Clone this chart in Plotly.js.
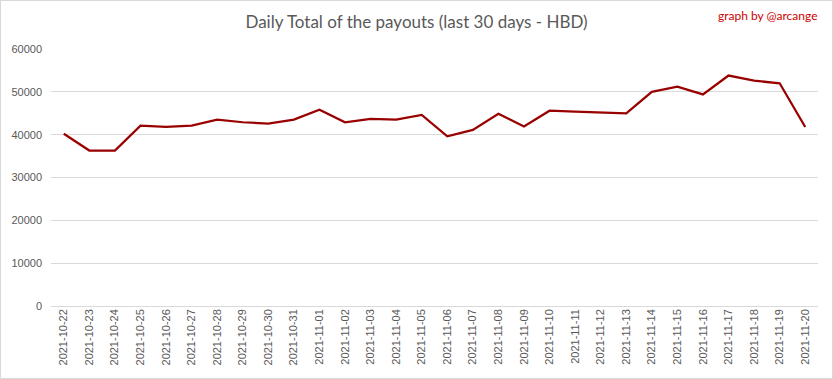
<!DOCTYPE html>
<html>
<head>
<meta charset="utf-8">
<script src="https://cdn.plot.ly/plotly-3.0.1.min.js"></script>
<style>
html,body{margin:0;padding:0;background:#fff;}
#chart{width:831px;height:377px;border:1px solid #d9d9d9;}
</style>
</head>
<body>
<div id="chart"></div>
<script>
const dates = ["2021-10-22","2021-10-23","2021-10-24","2021-10-25","2021-10-26","2021-10-27","2021-10-28","2021-10-29","2021-10-30","2021-10-31","2021-11-01","2021-11-02","2021-11-03","2021-11-04","2021-11-05","2021-11-06","2021-11-07","2021-11-08","2021-11-09","2021-11-10","2021-11-11","2021-11-12","2021-11-13","2021-11-14","2021-11-15","2021-11-16","2021-11-17","2021-11-18","2021-11-19","2021-11-20"];
const payouts = [40200,36300,36300,42100,41800,42100,43500,42900,42600,43500,45800,42900,43700,43500,44600,39600,41100,44900,41900,45600,45400,45200,45000,50000,51200,49400,53800,52600,52000,41800];
const yTicks = [0,10000,20000,30000,40000,50000,60000];

const trace = {
  x: dates, y: payouts, type: 'scatter', mode: 'lines',
  line: {color: '#990000', width: 2.25},
  hoverinfo: 'x+y'
};
const layout = {
  width: 831, height: 377,
  margin: {l: 50, r: 14, t: 48, b: 72},
  paper_bgcolor: '#ffffff', plot_bgcolor: '#ffffff',
  showlegend: false,
  title: {text: 'Daily Total of the payouts (last 30 days - HBD)', x: 0.5, xanchor: 'center', yref: 'container', y: 0.944, yanchor: 'middle',
    font: {family: 'Lato, sans-serif', size: 17, color: '#595959'}},
  xaxis: {type: 'category', tickangle: -90, showgrid: false, zeroline: false, showline: false,
    ticks: '', tickfont: {family: 'Liberation Sans, Arial, sans-serif', size: 11, color: '#595959'},
    range: [-0.5, dates.length - 0.5], fixedrange: true},
  yaxis: {range: [0, 60000], tickvals: yTicks, ticktext: yTicks.map(String), showgrid: true, gridcolor: '#d9d9d9', gridwidth: 1,
    zeroline: true, zerolinecolor: '#d9d9d9', zerolinewidth: 1, showline: false, ticks: '',
    tickfont: {family: 'Liberation Sans, Arial, sans-serif', size: 11, color: '#595959'}, ticklabelstandoff: 8, fixedrange: true},
  annotations: [{text: 'graph by @arcange', xref: 'paper', yref: 'paper', x: 1.003, y: 1.13, xanchor: 'right', yanchor: 'middle',
    showarrow: false, font: {family: 'Lato, sans-serif', size: 12, color: '#cc0000'}}]
};
Plotly.newPlot('chart', [trace], layout, {displayModeBar: false, staticPlot: true});
</script>
</body>
</html>
